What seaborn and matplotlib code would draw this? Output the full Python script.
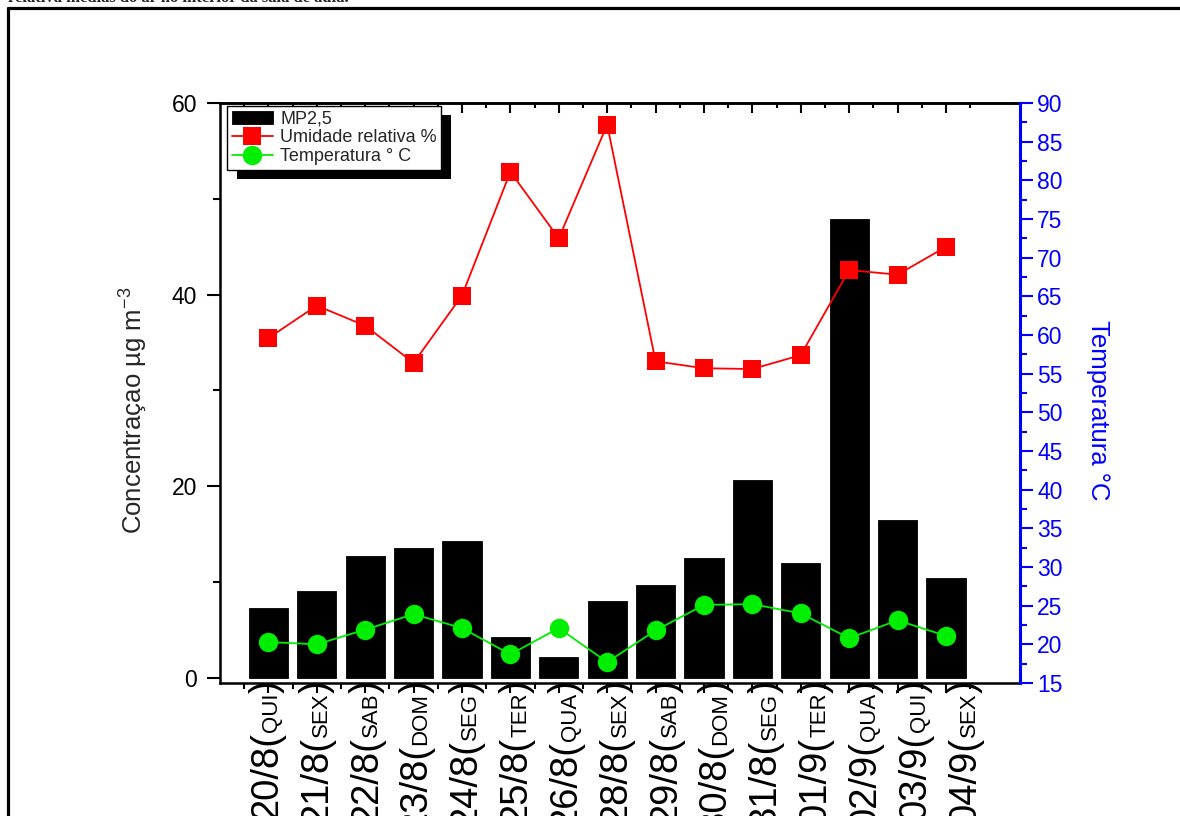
import numpy as np
import pandas as pd
import matplotlib
matplotlib.use("Agg")
import matplotlib.pyplot as plt
import seaborn as sns
from matplotlib.lines import Line2D
from matplotlib.patches import Rectangle
from matplotlib.transforms import offset_copy, IdentityTransform

# ---- data -------------------------------------------------------------
dates = ["20/8", "21/8", "22/8", "23/8", "24/8", "25/8", "26/8", "28/8",
         "29/8", "30/8", "31/8", "01/9", "02/9", "03/9", "04/9"]
days = ["QUI", "SEX", "SAB", "DOM", "SEG", "TER", "QUA", "SEX",
        "SAB", "DOM", "SEG", "TER", "QUA", "QUI", "SEX"]
mp25 = [7.3, 9.0, 12.7, 13.5, 14.3, 4.2, 2.1, 8.0,
        9.7, 12.5, 20.6, 12.0, 47.9, 16.5, 10.4]
umidade = [59.6, 63.8, 61.2, 56.4, 65.1, 81.1, 72.5, 87.2,
           56.6, 55.7, 55.6, 57.4, 68.4, 67.8, 71.4]
temperatura = [20.3, 20.0, 21.9, 23.9, 22.1, 18.7, 22.1, 17.7,
               21.8, 25.1, 25.2, 24.0, 20.8, 23.1, 21.1]
left_ticks = [0, 20, 40, 60]
right_ticks = list(range(15, 95, 5))

df = pd.DataFrame({"pos": np.arange(len(dates)), "data": dates, "dia": days,
                   "mp25": mp25, "umidade": umidade, "temperatura": temperatura})

# ---- style ------------------------------------------------------------
sns.set_style("ticks")
plt.rcParams["font.family"] = ["Liberation Sans", "DejaVu Sans"]
plt.rcParams["mathtext.fontset"] = "custom"
plt.rcParams["mathtext.rm"] = "Liberation Sans"
plt.rcParams["mathtext.it"] = "Liberation Sans"
plt.rcParams["axes.edgecolor"] = "black"
plt.rcParams["xtick.color"] = "black"
plt.rcParams["ytick.color"] = "black"

W, H = 1180, 816
fig = plt.figure(figsize=(W / 100, H / 100), dpi=100)
fig.patch.set_facecolor("white")
L, R, T, B = 220, 1020, 103, 683
ax = fig.add_axes([L / W, (H - B) / H, (R - L) / W, (B - T) / H])

# bars: PM2.5 concentration
sns.barplot(data=df, x="pos", y="mp25", color="black", width=0.81,
            edgecolor="black", linewidth=0.6, saturation=1, ax=ax)
ax.set_xlim(-1.0, 15.53)
ax.set_ylim(-0.57, 60)
ax.set_xlabel("")
ax.set_ylabel("Concentraçao µg m$^{\\mathregular{-3}}$", fontsize=18.5)
ax.yaxis.set_label_coords(-0.088, 0.47)

ax.set_yticks(left_ticks)
ax.set_yticks([10, 30, 50], minor=True)
ax.tick_params(axis="y", which="major", direction="out", length=9.5,
               width=1.5, labelsize=16.5, pad=7)
ax.tick_params(axis="y", which="minor", direction="out", length=4.8, width=1.5)

ax.set_xticks(np.arange(len(dates)))
ax.set_xticks(np.arange(-0.5, len(dates) + 0.5, 1.0), minor=True)
ax.tick_params(axis="x", which="major", direction="out", length=7,
               width=1.5, labelbottom=False)
ax.tick_params(axis="x", which="minor", direction="out", length=4.5, width=1.5)
for s in ["left", "bottom", "top"]:
    ax.spines[s].set_linewidth(1.8)
    ax.spines[s].set_color("black")
ax.spines["right"].set_visible(False)

# top axis with inward ticks
sec = ax.secondary_xaxis("top")
sec.set_xticks(np.arange(len(dates)))
sec.set_xticks(np.arange(-0.5, len(dates) + 0.5, 1.0), minor=True)
sec.tick_params(axis="x", which="major", direction="in", length=7,
                width=1.5, labeltop=False)
sec.tick_params(axis="x", which="minor", direction="in", length=3.6, width=1.5)
sec.spines["top"].set_linewidth(1.8)

# right axis: humidity and temperature
ax2 = ax.twinx()
sns.lineplot(data=df, x="pos", y="umidade", color="red", marker="s",
             markersize=13, markeredgewidth=0, linewidth=1.3, sort=False,
             ax=ax2)
sns.lineplot(data=df, x="pos", y="temperatura", color="#00ee00", marker="o",
             markersize=14, markeredgewidth=0, linewidth=1.3, sort=False,
             ax=ax2)
ax2.set_xlim(-1.0, 15.53)
ax2.set_ylim(15, 90)
ax2.set_yticks(right_ticks)
ax2.set_yticks(np.arange(17.5, 90, 5), minor=True)
ax2.tick_params(axis="y", which="major", direction="out", length=9.5,
                width=1.5, labelsize=16.5, pad=3, colors="blue",
                labelcolor="blue")
ax2.tick_params(axis="y", which="minor", direction="out", length=4.8,
                width=1.5, colors="blue")
for s in ["left", "bottom", "top"]:
    ax2.spines[s].set_visible(False)
ax2.spines["right"].set_color("blue")
ax2.spines["right"].set_linewidth(2.2)
ax2.set_xlabel("")
ax2.set_ylabel("Temperatura °C", color="blue", fontsize=18.5, rotation=270,
               va="center", ha="center")
ax2.yaxis.set_label_coords(1.0975, 0.47)

# legend with an offset solid shadow
handles = [ax.containers[0], ax2.lines[0], ax2.lines[1]]
labels = ["MP2,5", "Umidade relativa %", "Temperatura ° C"]
leg = ax2.legend(handles, labels, loc="upper left",
                 bbox_to_anchor=(7 / 800, 1 - 3 / 580), borderaxespad=0,
                 fontsize=13, frameon=True, fancybox=False, framealpha=1,
                 edgecolor="black", handlelength=2.3, handletextpad=0.4,
                 borderpad=0.25, labelspacing=0.1)
leg.get_frame().set_linewidth(1.0)
leg.set_zorder(6)

fig.canvas.draw()
renderer = fig.canvas.get_renderer()
lb = leg.get_window_extent(renderer)
shadow = Rectangle((lb.x0 + 10, lb.y0 - 9), lb.width, lb.height,
                   transform=IdentityTransform(), facecolor="black",
                   edgecolor="none", zorder=5.5)
ax2.add_patch(shadow)

# date labels: large date, small weekday, large parentheses
big, small = 27.5, 16
for i, (d, w) in enumerate(zip(dates, days)):
    xa = (277 - L + i * 49.86) / (R - L)
    y_px = 3.0
    pieces = [(")", big), (w, small), (d + "(", big)]
    for txt, fs in pieces:
        tr = offset_copy(ax.transAxes, fig=fig, x=0, y=y_px, units="dots")
        t = ax.text(xa, 0, txt, transform=tr, rotation=90,
                    rotation_mode="anchor", ha="right", va="baseline",
                    fontsize=fs, color="black", clip_on=False)
        ext = t.get_window_extent(renderer)
        y_px -= ext.height

# page frame and cropped caption line
fig.add_artist(Line2D([7.5 / W, 7.5 / W], [0, 1 - 7.5 / H],
                      transform=fig.transFigure, color="black", lw=2.3))
fig.add_artist(Line2D([7.5 / W, 1], [1 - 7.5 / H, 1 - 7.5 / H],
                      transform=fig.transFigure, color="black", lw=2.3))
fig.text(8 / W, 1 - 1.5 / H, "relativa médias do ar no interior da sala de aula.",
         family="Liberation Serif", weight="bold", fontsize=12,
         va="baseline", ha="left")

fig.savefig("out.png", dpi=100, facecolor="white")
